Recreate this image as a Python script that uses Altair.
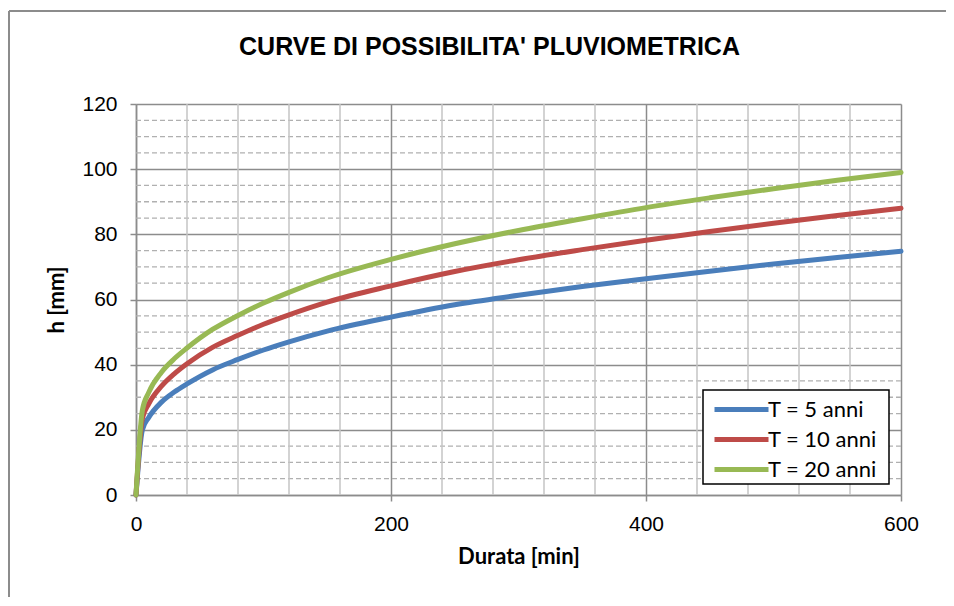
import altair as alt
import pandas as pd

# ---- data ----
durations = [0, 5, 10, 20, 30, 40, 60, 80, 100, 120, 150, 200, 250, 300, 350, 400, 450, 500, 550, 600]
h_T5 = [0, 20.0, 23.8, 28.5, 31.6, 34.1, 38.4, 41.6, 44.5, 47.0, 50.3, 54.6, 58.4, 61.3, 64.0, 66.4, 68.7, 70.9, 72.9, 74.8]
h_T10 = [0, 23.5, 28.0, 33.4, 37.2, 40.3, 45.3, 49.0, 52.4, 55.3, 59.2, 64.2, 68.6, 72.2, 75.3, 78.2, 80.9, 83.4, 85.8, 88.0]
h_T20 = [0, 26.0, 31.5, 37.7, 41.8, 45.1, 50.8, 55.1, 58.9, 62.2, 66.6, 72.3, 77.1, 81.2, 84.8, 88.2, 91.2, 94.0, 96.6, 99.0]

series_names = ["T = 5 anni", "T = 10 anni", "T = 20 anni"]
series_colors = ["#4A7EBB", "#BE4B48", "#98B954"]

x_ticks = [0, 200, 400, 600]
y_ticks = [0, 20, 40, 60, 80, 100, 120]
x_minor = [40, 80, 120, 160, 240, 280, 320, 360, 440, 480, 520, 560]
y_minor = [5, 10, 15, 25, 30, 35, 45, 50, 55, 65, 70, 75, 85, 90, 95, 105, 110, 115]

title_text = "CURVE DI POSSIBILITA' PLUVIOMETRICA"
x_title = "Durata [min]"
y_title = "h [mm]"

# ---- tables ----
rows = []
for name, vals in zip(series_names, [h_T5, h_T10, h_T20]):
    for t, h in zip(durations, vals):
        rows.append({"t": t, "h": h, "serie": name})
df = pd.DataFrame(rows)
df_xminor = pd.DataFrame({"t": x_minor})
df_yminor = pd.DataFrame({"h": y_minor})
df_one = pd.DataFrame({"a": [0]})

x_scale = alt.Scale(domain=[0, 600], nice=False, zero=False)
y_scale = alt.Scale(domain=[0, 120], nice=False, zero=False)

GRID = "#8c8c8c"
common_axis = dict(
    grid=True, gridColor=GRID, gridWidth=1.5,
    domainColor=GRID, domainWidth=1.5,
    tickColor=GRID, tickSize=6, tickWidth=1.5,
    labelFont="Liberation Sans", labelFontSize=21, labelColor="black",
    titleFont="Lato", titleFontSize=22, titleFontWeight="bold", titleColor="black",
    labelFlush=False,
)
x_axis = alt.Axis(values=x_ticks, title=x_title, labelPadding=12, titlePadding=12, **common_axis)
y_axis = alt.Axis(values=y_ticks, title=y_title, labelPadding=13, titlePadding=13, **common_axis)

# decorative outer frame of the original picture
frame_top = alt.Chart(df_one).mark_rule(color="#8c8c8c", strokeWidth=2).encode(
    x=alt.value(-127), x2=alt.value(815), y=alt.value(-93)
)
frame_left = alt.Chart(df_one).mark_rule(color="#8c8c8c", strokeWidth=2).encode(
    x=alt.value(-127), y=alt.value(-93), y2=alt.value(520)
)

ygrid_minor = alt.Chart(df_yminor).mark_rule(
    color="#b0b0b0", strokeWidth=1.3, strokeDash=[5, 3]
).encode(y=alt.Y("h:Q", scale=y_scale, axis=y_axis))

xgrid_minor = alt.Chart(df_xminor).mark_rule(
    color="#c4c4c4", strokeWidth=1.5
).encode(x=alt.X("t:Q", scale=x_scale, axis=x_axis))

# legend box (white, black border) drawn under the curves
legend_box = alt.Chart(df_one).mark_rect(
    fill="white", stroke="black", strokeWidth=1.5
).encode(x=alt.value(567), x2=alt.value(753), y=alt.value(286), y2=alt.value(380))

lines = alt.Chart(df).mark_line(
    strokeWidth=5, interpolate="monotone", strokeJoin="round", strokeCap="round"
).encode(
    x=alt.X("t:Q", scale=x_scale, axis=x_axis),
    y=alt.Y("h:Q", scale=y_scale, axis=y_axis),
    color=alt.Color(
        "serie:N",
        scale=alt.Scale(domain=series_names, range=series_colors),
        sort=series_names,
        legend=alt.Legend(
            title=None, orient="none", legendX=567, legendY=286,
            direction="vertical",
            symbolType="M-1.8,0H1.8", symbolSize=900, symbolStrokeWidth=5,
            symbolOffset=19, labelOffset=9,
            labelFont="Lato", labelFontSize=22, labelColor="black",
            padding=2, rowPadding=1,
        ),
    ),
    order=alt.Order("t:Q"),
)

chart = alt.layer(frame_top, frame_left, ygrid_minor, xgrid_minor, legend_box, lines).properties(
    width=765,
    height=391,
    padding={"left": 128, "top": 96, "right": 45, "bottom": 102},
    autosize=alt.AutoSizeParams(type="none"),
    title=alt.TitleParams(
        title_text, font="Liberation Sans", fontSize=25, fontWeight="bold",
        color="black", anchor="middle", frame="group", baseline="alphabetic",
        offset=-70, dx=-29,
    ),
).configure_view(stroke=None)

chart.save("out.html", embed_options={"renderer": "svg", "actions": False})
